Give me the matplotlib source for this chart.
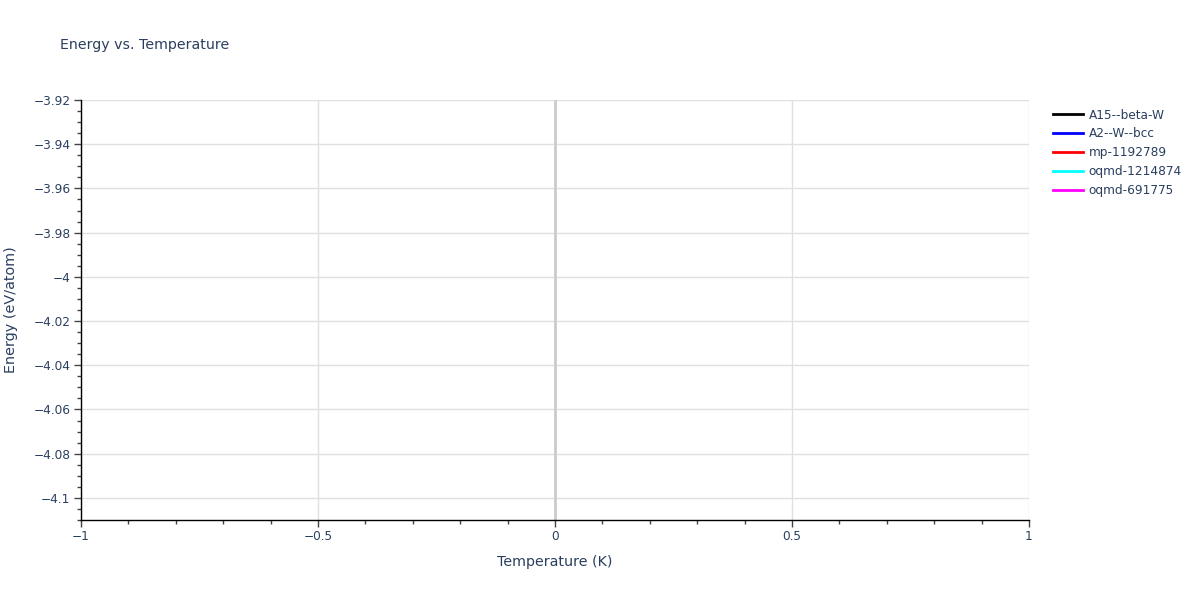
import matplotlib.pyplot as plt
from matplotlib.ticker import MultipleLocator, FuncFormatter

plt.rcParams['font.family'] = ['DejaVu Sans']

# series in the legend (the chart has no plotted points)
names = ['A15--beta-W', 'A2--W--bcc', 'mp-1192789', 'oqmd-1214874', 'oqmd-691775']
colors = ['black', 'blue', 'red', 'cyan', 'magenta']
temps = [[], [], [], [], []]
energies = [[], [], [], [], []]

xlim = (-1, 1)
ylim = (-4.11, -3.92)

txt = '#2a3f5f'

fig = plt.figure(figsize=(12, 6), dpi=100)
ax = fig.add_axes([81/1200, 80/600, 948/1200, 420/600])

lines = []
for t, e, c, n in zip(temps, energies, colors, names):
    l, = ax.plot(t, e, color=c, lw=2, label=n)
    lines.append(l)

ax.set_xlim(*xlim)
ax.set_ylim(*ylim)

def fmt(v, pos):
    s = f'{v:.2f}'.rstrip('0').rstrip('.')
    if s in ('-0', '0'):
        return '0'
    return s.replace('-', '\u2212')

ax.xaxis.set_major_locator(MultipleLocator(0.5))
ax.xaxis.set_minor_locator(MultipleLocator(0.1))
ax.yaxis.set_major_locator(MultipleLocator(0.02))
ax.yaxis.set_minor_locator(MultipleLocator(0.005))
ax.xaxis.set_major_formatter(FuncFormatter(fmt))
ax.yaxis.set_major_formatter(FuncFormatter(fmt))

ax.grid(True, which='major', color='#e0e0e0', lw=1)
ax.axvline(0, color='#cccccc', lw=2, zorder=1)
ax.set_axisbelow(True)

for s in ['top', 'right']:
    ax.spines[s].set_visible(False)
for s in ['left', 'bottom']:
    ax.spines[s].set_color('black')
    ax.spines[s].set_linewidth(1)

ax.tick_params(which='major', direction='out', length=5, width=1, color='#444444',
               labelsize=8.7, labelcolor=txt, pad=2.5)
ax.tick_params(which='minor', direction='out', length=3, width=1, color='#444444')

ax.set_xlabel('Temperature (K)', fontsize=10.3, color=txt, labelpad=8)
ax.set_ylabel('Energy (eV/atom)', fontsize=10.4, color=txt, labelpad=11)
fig.text(60/1200, 1 - 45/600, 'Energy vs. Temperature', fontsize=10.2, color=txt,
         va='center', ha='left')

leg = fig.legend(handles=lines, loc='upper left', bbox_to_anchor=(1053/1200, 1 - 108.5/600),
                 frameon=False, fontsize=8.75, handlelength=2.5, handletextpad=0.45,
                 labelspacing=0.48, borderpad=0, borderaxespad=0)
for t in leg.get_texts():
    t.set_color(txt)

fig.savefig('out.png', dpi=100)
